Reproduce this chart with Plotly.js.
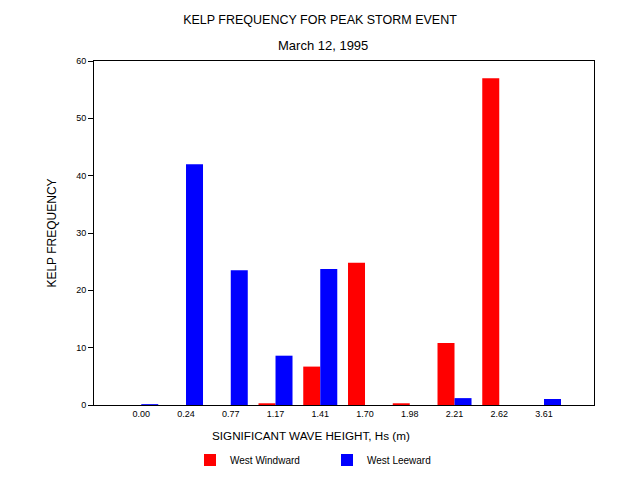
<!DOCTYPE html>
<html>
<head>
<meta charset="utf-8">
<script src="https://cdn.plot.ly/plotly-3.0.1.min.js"></script>
<style>html,body{margin:0;padding:0;background:#fff;}#chart{width:640px;height:479px;}</style>
</head>
<body>
<div id="chart"></div>
<script>
const categories = ["0.00","0.24","0.77","1.17","1.41","1.70","1.98","2.21","2.62","3.61"];
const westWindward = [0, 0, 0, 0.3, 6.7, 24.8, 0.3, 10.8, 57.0, 0];
const westLeeward  = [0.15, 42.0, 23.5, 8.6, 23.7, 0, 0, 1.2, 0, 1.05];
const yTicks = [0, 10, 20, 30, 40, 50, 60];

const font = "Liberation Sans, Arial, sans-serif";

const traces = [
  {type: "bar", name: "West Windward", x: categories, y: westWindward, marker: {color: "#ff0000", line: {width: 0}}},
  {type: "bar", name: "West Leeward", x: categories, y: westLeeward, marker: {color: "#0000ff", line: {width: 0}}}
];

const layout = {
  width: 640, height: 479,
  margin: {l: 94, r: 46, t: 61, b: 74, autoexpand: false},
  paper_bgcolor: "#fff", plot_bgcolor: "#fff",
  font: {family: font, color: "#000"},
  barmode: "group", bargap: 0.24, bargroupgap: 0,
  title: {text: "KELP FREQUENCY FOR PEAK STORM EVENT",
          font: {family: font, size: 12.5, color: "#000"}, x: 0.5, xref: "container", y: 1 - 20 / 479, yref: "container", yanchor: "middle"},
  xaxis: {
    type: "category", range: [-1.056, 10.117],
    showline: true, linecolor: "#000", linewidth: 1, mirror: true,
    ticks: "", showgrid: false, zeroline: false,
    tickfont: {family: font, size: 9, color: "#000"}
  },
  yaxis: {
    range: [0, 60], tickvals: yTicks, ticktext: yTicks.map(String),
    showline: true, linecolor: "#000", linewidth: 1, mirror: true,
    ticks: "outside", ticklen: 5, tickcolor: "#000", showgrid: false, zeroline: false,
    tickfont: {family: font, size: 9, color: "#000"},
    title: {text: "KELP FREQUENCY", font: {family: font, size: 12, color: "#000"}, standoff: 16}
  },
  annotations: [
    {text: "March 12, 1995", xref: "paper", yref: "paper", x: (323 - 94) / 500, y: (405 - 46) / 344,
     xanchor: "center", yanchor: "middle", showarrow: false, font: {family: font, size: 13, color: "#000"}},
    {text: "SIGNIFICANT WAVE HEIGHT, Hs (m)", xref: "paper", yref: "paper", x: 0.434, y: -0.065,
     xanchor: "center", yanchor: "top", showarrow: false, font: {family: font, size: 11.7, color: "#000"}}
  ],
  showlegend: true,
  legend: {orientation: "h", x: (190 - 94) / 500, xanchor: "left", y: (405 - 460) / 344, yanchor: "middle",
           font: {family: font, size: 10, color: "#000"}, itemwidth: 30, entrywidth: 92, entrywidthmode: "pixels",
           traceorder: "normal", borderwidth: 0}
};

Plotly.newPlot("chart", traces, layout, {displayModeBar: false, staticPlot: true});
</script>
</body>
</html>
